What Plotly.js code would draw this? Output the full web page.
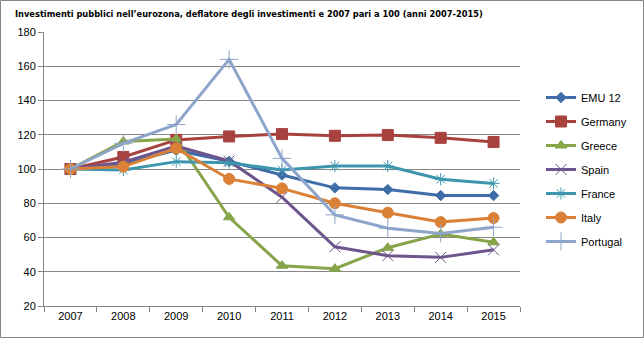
<!DOCTYPE html>
<html><head><meta charset="utf-8">
<script src="https://cdn.plot.ly/plotly-3.0.1.min.js"></script>
<style>html,body{margin:0;padding:0;background:#fff}#chart{width:644px;height:338px}</style>
</head><body><div id="chart"></div>
<script>
const years = ['2007','2008','2009','2010','2011','2012','2013','2014','2015'];
const emu12    = [100, 103, 111, 104.5, 96.5, 89, 88, 84.5, 84.5];
const germany  = [100, 107, 117, 119, 120.4, 119.4, 119.8, 118.2, 115.8];
const greece   = [100, 116, 117.5, 71.8, 43.5, 41.8, 54, 62, 57.2];
const spain    = [100, 104, 113.4, 104.7, 83.5, 54.6, 49.4, 48.4, 52.8];
const france   = [100, 99.4, 104.3, 103.7, 99.4, 101.7, 101.7, 94, 91.6];
const italy    = [100, 101.4, 112, 94.2, 88.7, 80, 74.5, 69, 71.4];
const portugal = [100, 115, 126, 164, 106.2, 73.2, 65.4, 62.4, 66];
const seriesNames = ['EMU 12','Germany','Greece','Spain','France','Italy','Portugal'];

const data = [emu12, germany, greece, spain, france, italy, portugal];
const colors = ['#3F6DA8','#A8423F','#86A44A','#6E548D','#3D96AE','#DA8137','#8EA5CB'];
const symbols = ['diamond','square','triangle-up','x-thin-open','asterisk-open','circle','cross-thin-open'];
const sizes = [8, 11, 10, 11, 10, 11, 13];

const traces = data.map((v,i)=>({
  type:'scatter', mode:'lines+markers', x: years, y: v, name: seriesNames[i],
  legendgroup: 'g'+i,
  line:{color:colors[i], width:3},
  marker:{symbol:symbols[i], size:sizes[i], color:colors[i], line:{color:colors[i], width:1}}
}));

const L=44, R=520, T=32, B=306;
const pw=R-L, ph=B-T;
const layout = {
  width:644, height:338,
  margin:{l:L, r:644-R, t:T, b:338-B, pad:0},
  paper_bgcolor:'#fff', plot_bgcolor:'#fff',
  font:{family:'Liberation Sans, Arial, sans-serif', size:11, color:'#000'},
  title:{text:'<b>Investimenti pubblici nell’eurozona, deflatore degli investimenti e 2007 pari a 100 (anni 2007-2015)</b>',
    x:15/644, xanchor:'left', xref:'container', y:1-14/338, yanchor:'middle', yref:'container',
    font:{family:'DejaVu Sans Condensed, Liberation Sans, sans-serif', size:9.2, color:'#000'}},
  xaxis:{type:'category', range:[-0.5,8.5], tickson:'boundaries', ticks:'outside', ticklen:5, tickcolor:'#868686',
    showline:true, linecolor:'#868686', linewidth:1, showgrid:false, zeroline:false,
    tickfont:{family:'Liberation Sans, Arial, sans-serif', size:11}, fixedrange:true},
  yaxis:{range:[20,180], dtick:20, tick0:20, ticks:'outside', ticklen:5, tickcolor:'#868686',
    showline:true, linecolor:'#868686', linewidth:1, showgrid:true, gridcolor:'#868686', gridwidth:1, zeroline:false,
    tickfont:{family:'Liberation Sans, Arial, sans-serif', size:11}, fixedrange:true},
  legend:{x:(541-L)/pw, xanchor:'left', y:(B-83)/ph, yanchor:'top', traceorder:'grouped', tracegroupgap:5,
    font:{family:'Liberation Sans, Arial, sans-serif', size:11}, bgcolor:'rgba(0,0,0,0)', itemwidth:30},
  shapes:[{type:'rect', xref:'paper', yref:'paper',
    x0:(0.5-L)/pw, x1:(643.5-L)/pw, y0:(B-337.5)/ph, y1:(B-0.5)/ph,
    line:{color:'#868686', width:1}, fillcolor:'rgba(0,0,0,0)', layer:'below'}],
  showlegend:true
};
Plotly.newPlot('chart', traces, layout, {staticPlot:true, displayModeBar:false});
</script></body></html>
